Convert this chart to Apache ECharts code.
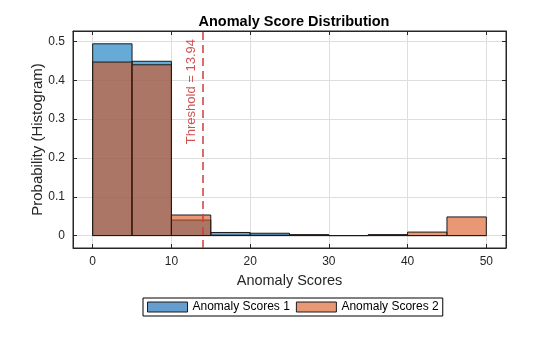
<!DOCTYPE html>
<html><head><meta charset="utf-8">
<script src="https://cdn.jsdelivr.net/npm/echarts@6/dist/echarts.min.js"></script>
<style>html,body{margin:0;padding:0;background:#fff}#c{width:560px;height:337px}</style>
</head><body><div id="c"></div>
<script>
var binEdges = [0, 5, 10, 15, 20, 25, 30, 35, 40, 45, 50];
var scores1 = [0.494, 0.449, 0.040, 0.008, 0.006, 0.002, 0.000, 0.002, 0.000, 0.000];
var scores2 = [0.447, 0.440, 0.053, 0.001, 0.001, 0.002, 0.000, 0.002, 0.009, 0.048];
var seriesNames = ['Anomaly Scores 1', 'Anomaly Scores 2'];
var threshold = 13.94;
var xRange = [-2.5, 52.5];
var yRange = [-0.032, 0.527];

var FONT = 'Liberation Sans, Arial, Helvetica, sans-serif';
var fills = ['rgba(0,114,189,0.6)', 'rgba(217,83,25,0.6)'];

function toData(vals) {
  return vals.map(function (v, i) { return [binEdges[i], binEdges[i + 1], v]; });
}
function makeRender(fill) {
  return function (params, api) {
    var p0 = api.coord([api.value(0), api.value(2)]);
    var p1 = api.coord([api.value(1), 0]);
    return {
      type: 'rect',
      shape: { x: p0[0], y: p0[1], width: p1[0] - p0[0], height: p1[1] - p0[1] },
      style: { fill: fill, stroke: '#1a1a1a', lineWidth: 1 }
    };
  };
}

var axisCommon = {
  axisLine: { show: true, onZero: false, lineStyle: { color: '#262626', width: 1 } },
  axisTick: { show: true, inside: true, length: 4, lineStyle: { color: '#262626' } }
};

var chart = echarts.init(document.getElementById('c'), null, { renderer: 'canvas' });
chart.setOption({
  animation: false,
  backgroundColor: '#fff',
  title: {
    text: 'Anomaly Score Distribution', left: 289, top: 9, textAlign: 'center',
    textStyle: { fontFamily: FONT, fontSize: 14.5, fontWeight: 'bold', color: '#000' }
  },
  grid: { left: 73, right: 54, top: 31, bottom: 89, show: true, borderColor: '#262626', borderWidth: 1, backgroundColor: 'transparent' },
  legend: {
    bottom: 21, left: 143,
    itemWidth: 40, itemHeight: 10, itemGap: 6,
    padding: [3, 4, 3, 4],
    borderColor: '#000', borderWidth: 1, borderRadius: 0,
    textStyle: { fontFamily: FONT, fontSize: 12, color: '#000' },
    data: [
      { name: seriesNames[0], icon: 'rect', itemStyle: { color: 'rgb(102,157,207)', borderColor: '#1a1a1a', borderWidth: 1 } },
      { name: seriesNames[1], icon: 'rect', itemStyle: { color: 'rgb(232,152,117)', borderColor: '#1a1a1a', borderWidth: 1 } }
    ]
  },
  xAxis: [
    Object.assign({}, axisCommon, {
      type: 'value', min: xRange[0], max: xRange[1], splitNumber: 5,
      name: 'Anomaly Scores', nameLocation: 'middle', nameGap: 25,
      nameTextStyle: { fontFamily: FONT, fontSize: 14.5, color: '#262626' },
      axisLabel: { showMinLabel: false, showMaxLabel: false, fontFamily: FONT, fontSize: 12, color: '#262626', margin: 8 },
      splitLine: { show: true, lineStyle: { color: '#dedede', width: 1 } }
    }),
    Object.assign({}, axisCommon, {
      type: 'value', position: 'top', min: xRange[0], max: xRange[1], splitNumber: 5,
      axisLabel: { show: false }, splitLine: { show: false }
    })
  ],
  yAxis: [
    Object.assign({}, axisCommon, {
      type: 'value', min: yRange[0], max: yRange[1], splitNumber: 5,
      name: 'Probability (Histogram)', nameLocation: 'middle', nameGap: 28, nameMoveOverlap: false,
      nameTextStyle: { fontFamily: FONT, fontSize: 15, color: '#262626' },
      axisLabel: { showMinLabel: false, showMaxLabel: false, fontFamily: FONT, fontSize: 12, color: '#262626', margin: 8 },
      splitLine: { show: true, lineStyle: { color: '#dedede', width: 1 } }
    }),
    Object.assign({}, axisCommon, {
      type: 'value', position: 'right', min: yRange[0], max: yRange[1], splitNumber: 5,
      axisLabel: { show: false }, splitLine: { show: false }
    })
  ],
  series: [
    {
      name: seriesNames[0], type: 'custom', xAxisIndex: 0, yAxisIndex: 0,
      itemStyle: { color: 'rgb(102,157,207)' },
      renderItem: makeRender(fills[0]), data: toData(scores1), z: 2
    },
    {
      name: seriesNames[1], type: 'custom', xAxisIndex: 0, yAxisIndex: 0,
      itemStyle: { color: 'rgb(232,152,117)' },
      renderItem: makeRender(fills[1]), data: toData(scores2), z: 3,
      markLine: {
        silent: true, symbol: ['none', 'none'], z: 5,
        lineStyle: { color: 'rgba(204,60,60,0.75)', width: 2, type: [8, 5] },
        label: {
          show: true, position: 'insideEndTop', formatter: 'Threshold = ' + threshold.toFixed(2),
          fontFamily: FONT, fontSize: 13, color: 'rgba(200,50,50,0.85)', distance: [8, 5]
        },
        data: [{ xAxis: threshold }]
      }
    }
  ]
});
</script></body></html>
